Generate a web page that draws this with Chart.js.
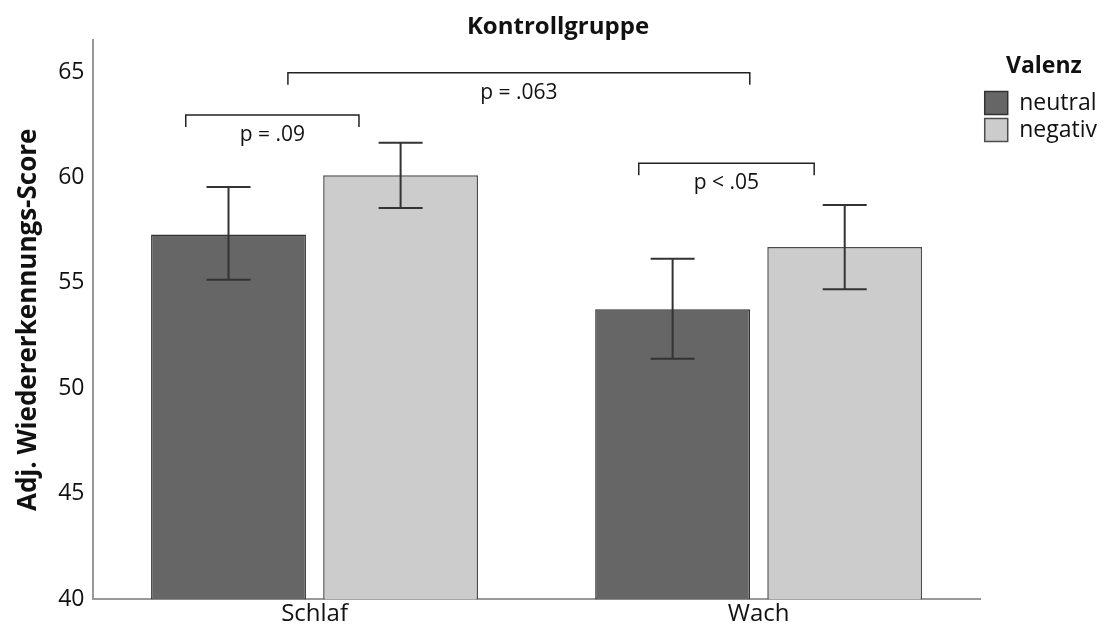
<!DOCTYPE html>
<html>
<head>
<meta charset="utf-8">
<script src="https://cdn.jsdelivr.net/npm/chart.js@4"></script>
<style>
  body { margin: 0; background: #fff; }
  canvas { display: block; }
</style>
</head>
<body>
<canvas id="chart" width="1107" height="630"></canvas>
<script>
// groups on the x axis
var groups = ['Schlaf', 'Wach'];

// mean scores per valence
var neutral = [57.3, 53.75];
var negativ = [60.1, 56.7];

// error bar limits (low / high)
var neutralLow = [55.15, 51.4];
var neutralHigh = [59.55, 56.15];
var negativLow = [58.55, 54.7];
var negativHigh = [61.65, 58.7];

// y ticks
var yMin = 40;
var yMax = 66.5;
var yStep = 5;

// significance brackets: x in category units, y in score units
var bracketText = ['p = .09', 'p = .063', 'p < .05'];
var bracketFrom = [-0.29, -0.06, 0.73];
var bracketTo = [0.1, 0.98, 1.125];
var bracketY = [62.96, 64.96, 60.67];

var sans = '"Open Sans", "Liberation Sans", sans-serif';

/**
 * draws the error bars and the p-value brackets on top of the bars
 */
var extrasPlugin = {
    id: 'extras',
    afterDatasetsDraw: function(chart) {
        var ctx = chart.ctx;
        var xs = chart.scales.x;
        var ys = chart.scales.y;
        var lows = [neutralLow, negativLow];
        var highs = [neutralHigh, negativHigh];

        ctx.save();
        ctx.strokeStyle = '#333';
        ctx.lineWidth = 2;
        for (var d = 0; d < 2; d++) {
            var meta = chart.getDatasetMeta(d);
            meta.data.forEach(function(bar, i) {
                var top = ys.getPixelForValue(highs[d][i]);
                var bot = ys.getPixelForValue(lows[d][i]);
                ctx.beginPath();
                ctx.moveTo(bar.x, top);
                ctx.lineTo(bar.x, bot);
                ctx.moveTo(bar.x - 22, top);
                ctx.lineTo(bar.x + 22, top);
                ctx.moveTo(bar.x - 22, bot);
                ctx.lineTo(bar.x + 22, bot);
                ctx.stroke();
            });
        }

        ctx.strokeStyle = '#222';
        ctx.lineWidth = 1.5;
        ctx.fillStyle = '#111';
        ctx.font = '21px ' + sans;
        ctx.textAlign = 'center';
        ctx.textBaseline = 'middle';
        for (var b = 0; b < bracketText.length; b++) {
            var x1 = xs.getPixelForValue(bracketFrom[b]);
            var x2 = xs.getPixelForValue(bracketTo[b]);
            var y = ys.getPixelForValue(bracketY[b]);
            ctx.beginPath();
            ctx.moveTo(x1, y + 12);
            ctx.lineTo(x1, y);
            ctx.lineTo(x2, y);
            ctx.lineTo(x2, y + 12);
            ctx.stroke();
            ctx.fillText(bracketText[b], (x1 + x2) / 2, y + 20);
        }
        ctx.restore();
    }
};

var chart = new Chart(document.getElementById('chart'), {
    type: 'bar',
    data: {
        labels: groups,
        datasets: [{
            label: 'neutral',
            data: neutral,
            backgroundColor: '#666666',
            borderColor: '#333333',
            borderWidth: 1.5,
            borderSkipped: false
        }, {
            label: 'negativ',
            data: negativ,
            backgroundColor: '#cccccc',
            borderColor: '#4d4d4d',
            borderWidth: 1.5,
            borderSkipped: false
        }]
    },
    options: {
        responsive: false,
        animation: false,
        datasets: {
            bar: {
                categoryPercentage: 0.775,
                barPercentage: 0.9
            }
        },
        layout: {
            padding: {left: 9, right: 0, top: 0, bottom: 0}
        },
        plugins: {
            title: {
                display: true,
                text: 'Kontrollgruppe',
                color: '#111',
                font: {family: sans, size: 24, weight: 'bold', lineHeight: 1.1},
                padding: {top: 14, bottom: 0}
            },
            legend: {
                position: 'right',
                align: 'start',
                title: {
                    display: true,
                    text: 'Valenz',
                    color: '#111',
                    font: {family: sans, size: 23, weight: 'bold'},
                    padding: {top: 55, bottom: 5}
                },
                labels: {
                    color: '#111',
                    font: {family: sans, size: 23},
                    boxWidth: 23,
                    boxHeight: 23,
                    padding: 4
                }
            },
            tooltip: {enabled: false}
        },
        scales: {
            x: {
                grid: {display: false, drawTicks: false},
                border: {display: true, color: '#999', width: 2},
                ticks: {
                    color: '#111',
                    font: {family: sans, size: 24},
                    padding: 1
                }
            },
            y: {
                min: yMin,
                max: yMax,
                grid: {display: false, drawTicks: false},
                border: {display: true, color: '#999', width: 2},
                ticks: {
                    stepSize: yStep,
                    includeBounds: false,
                    color: '#111',
                    font: {family: sans, size: 23},
                    padding: 8
                },
                title: {
                    display: true,
                    text: 'Adj. Wiedererkennungs-Score',
                    color: '#111',
                    font: {family: sans, size: 26, weight: 'bold'},
                    padding: {top: 4, bottom: 6}
                }
            }
        }
    },
    plugins: [extrasPlugin]
});
</script>
</body>
</html>
